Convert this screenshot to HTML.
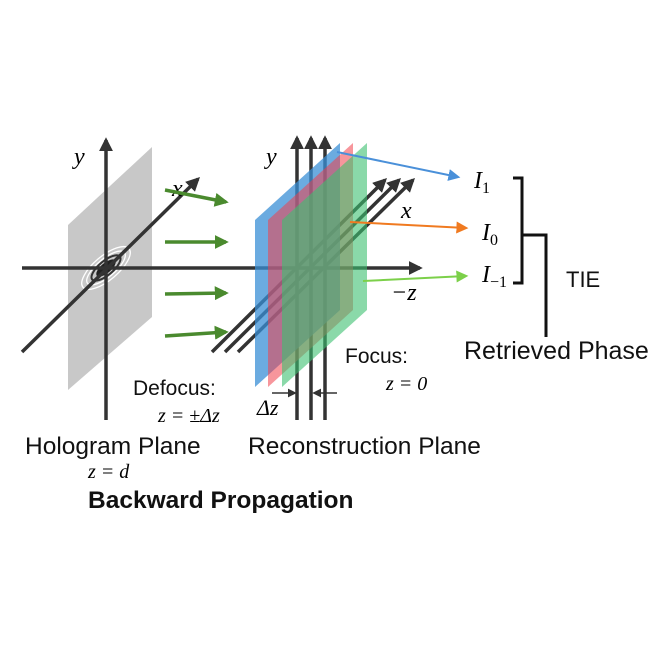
<!DOCTYPE html>
<html><head><meta charset="utf-8"><style>
html,body{margin:0;padding:0;background:#fff;}
svg{display:block;font-family:"Liberation Sans",sans-serif;}
.m{font-family:"Liberation Serif",serif;font-style:italic;}
</style></head><body>
<svg width="650" height="650" viewBox="0 0 650 650">
<defs>
<marker id="ah" viewBox="0 0 10 10" refX="8" refY="5" markerWidth="4" markerHeight="4" orient="auto"><path d="M0,0 L10,5 L0,10 z" fill="#333"/></marker>
<marker id="ag" viewBox="0 0 10 10" refX="8" refY="5" markerWidth="4" markerHeight="4" orient="auto"><path d="M0,0 L10,5 L0,10 z" fill="#4a8a2e"/></marker>
<marker id="ab" viewBox="0 0 10 10" refX="8" refY="5" markerWidth="6" markerHeight="6" orient="auto"><path d="M0,0 L10,5 L0,10 z" fill="#4a90d9"/></marker>
<marker id="ao" viewBox="0 0 10 10" refX="8" refY="5" markerWidth="6" markerHeight="6" orient="auto"><path d="M0,0 L10,5 L0,10 z" fill="#f07a20"/></marker>
<marker id="al" viewBox="0 0 10 10" refX="8" refY="5" markerWidth="6" markerHeight="6" orient="auto"><path d="M0,0 L10,5 L0,10 z" fill="#7cd04a"/></marker>
<marker id="ak" viewBox="0 0 10 10" refX="8" refY="5" markerWidth="6" markerHeight="6" orient="auto"><path d="M0,0 L10,5 L0,10 z" fill="#333"/></marker>
</defs>
<polygon points="68,225 152,147 152,317 68,390" fill="#c8c8c8"/>
<g transform="translate(106,268) rotate(-40)" fill="none" stroke="#fff" stroke-width="1.3">
<ellipse rx="30" ry="12"/><ellipse rx="24" ry="9"/><ellipse rx="18" ry="7" stroke="#333" stroke-width="2"/><ellipse rx="12" ry="5" fill="#222" stroke="none"/>
</g>
<g stroke="#333" stroke-width="3.5">
<line x1="106" y1="420" x2="106" y2="140" marker-end="url(#ah)"/>
<line x1="22" y1="268" x2="420" y2="268" marker-end="url(#ah)"/>
<line x1="22" y1="352" x2="198" y2="179" marker-end="url(#ah)"/>
</g>
<text class="m" x="74" y="164" font-size="24">y</text>
<text class="m" x="172" y="196" font-size="24">x</text>
<g stroke="#4a8a2e" stroke-width="3.5">
<line x1="165" y1="190" x2="226" y2="202" marker-end="url(#ag)"/>
<line x1="165" y1="242" x2="226" y2="242" marker-end="url(#ag)"/>
<line x1="165" y1="294" x2="226" y2="293" marker-end="url(#ag)"/>
<line x1="165" y1="336" x2="226" y2="332" marker-end="url(#ag)"/>
</g>
<g stroke="#333" stroke-width="3.5">
<line x1="297" y1="420" x2="297" y2="138" marker-end="url(#ah)"/>
<line x1="311" y1="420" x2="311" y2="138" marker-end="url(#ah)"/>
<line x1="325" y1="420" x2="325" y2="138" marker-end="url(#ah)"/>
<line x1="212" y1="352" x2="385" y2="180" marker-end="url(#ah)"/>
<line x1="225" y1="352" x2="399" y2="180" marker-end="url(#ah)"/>
<line x1="238" y1="352" x2="413" y2="180" marker-end="url(#ah)"/>
</g>
<polygon points="255,220 340,143 340,310 255,387" fill="#3a8fd6" fill-opacity="0.75"/>
<polygon points="268,220 353,143 353,310 268,387" fill="#f0404a" fill-opacity="0.55"/>
<polygon points="282,220 367,143 367,310 282,387" fill="#3cc070" fill-opacity="0.6"/>
<text class="m" x="266" y="164" font-size="24">y</text>
<text class="m" x="401" y="218" font-size="24">x</text>
<text class="m" x="391" y="300" font-size="24">−z</text>
<line x1="337" y1="152" x2="458" y2="177" stroke="#4a90d9" stroke-width="2" marker-end="url(#ab)"/>
<line x1="350" y1="222" x2="466" y2="228" stroke="#f07a20" stroke-width="2" marker-end="url(#ao)"/>
<line x1="363" y1="281" x2="466" y2="276" stroke="#7cd04a" stroke-width="2" marker-end="url(#al)"/>
<text class="m" x="474" y="188" font-size="24">I<tspan font-size="16" font-style="normal" dy="5">1</tspan></text>
<text class="m" x="482" y="240" font-size="24">I<tspan font-size="16" font-style="normal" dy="5">0</tspan></text>
<text class="m" x="482" y="282" font-size="24">I<tspan font-size="16" font-style="normal" dy="5">−1</tspan></text>
<path d="M513,178 H522 V283 H513 M522,235 H546 V337" fill="none" stroke="#111" stroke-width="3"/>
<text x="566" y="287" font-size="22" fill="#111">TIE</text>
<text x="464" y="359" font-size="25" fill="#111">Retrieved Phase</text>
<text x="345" y="363" font-size="21" fill="#111">Focus:</text>
<text class="m" x="386" y="390" font-size="20">z = 0</text>
<text x="133" y="395" font-size="21" fill="#111">Defocus:</text>
<text class="m" x="158" y="422" font-size="20">z = ±Δz</text>
<text class="m" x="257" y="415" font-size="22">Δz</text>
<line x1="272" y1="393" x2="295" y2="393" stroke="#333" stroke-width="1.5" marker-end="url(#ak)"/>
<line x1="337" y1="393" x2="314" y2="393" stroke="#333" stroke-width="1.5" marker-end="url(#ak)"/>
<text x="25" y="454" font-size="24.5" fill="#111">Hologram Plane</text>
<text class="m" x="88" y="478" font-size="20">z = d</text>
<text x="248" y="454" font-size="24.5" fill="#111">Reconstruction Plane</text>
<text x="88" y="508" font-size="24.5" font-weight="bold" fill="#111">Backward Propagation</text>
</svg>
</body></html>
